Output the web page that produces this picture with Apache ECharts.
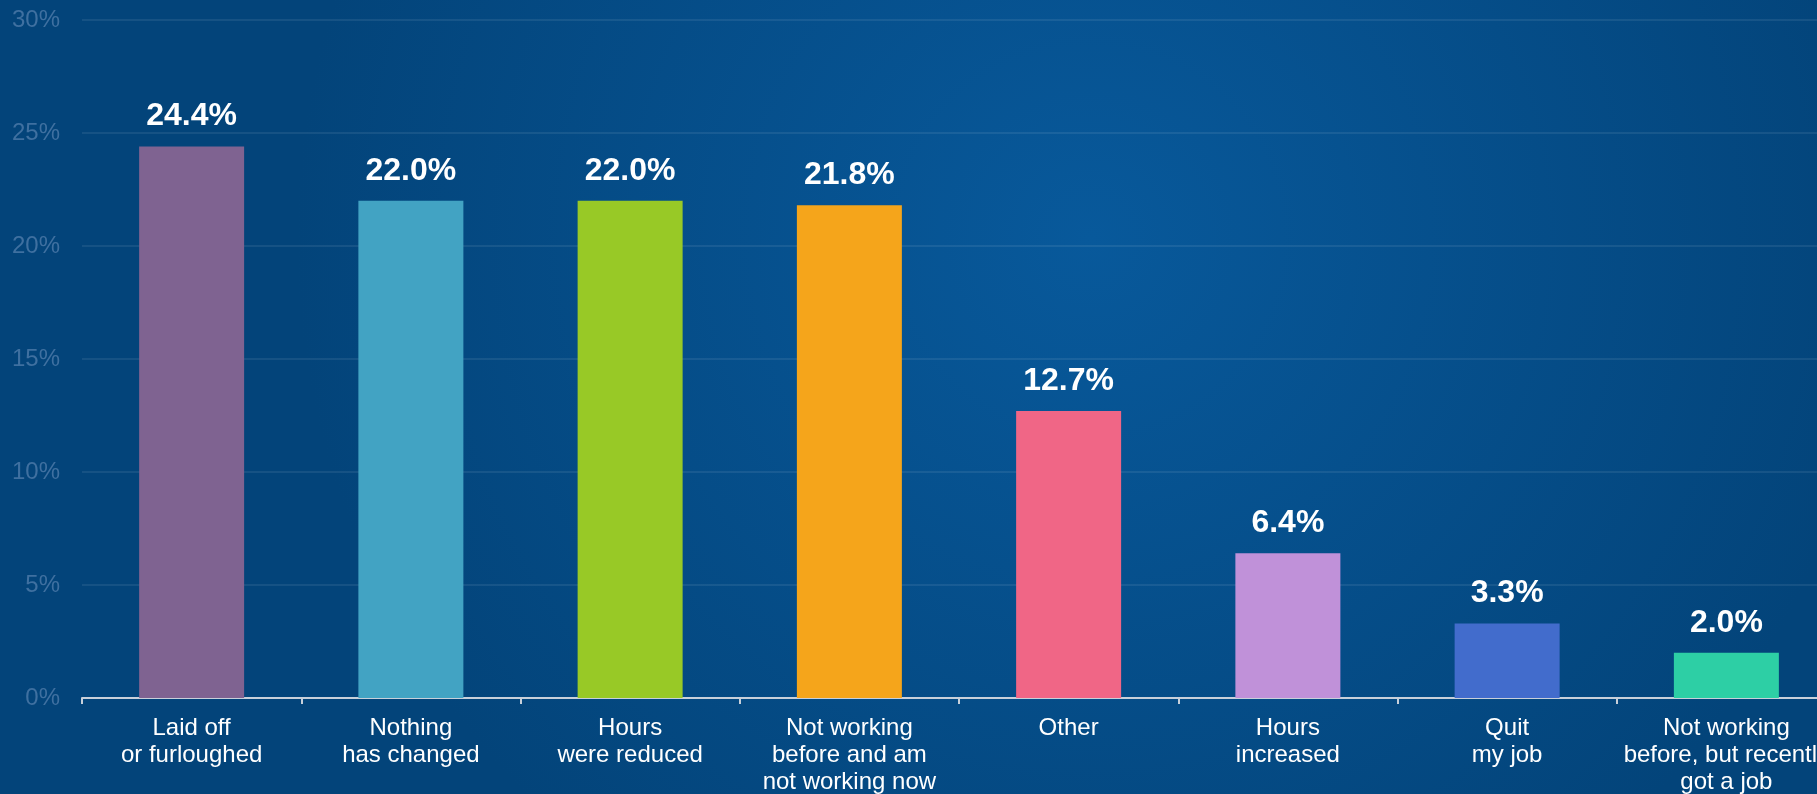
<!DOCTYPE html>
<html>
<head>
<meta charset="utf-8">
<script src="https://cdn.jsdelivr.net/npm/echarts@6/dist/echarts.min.js"></script>
<style>
html,body{margin:0;padding:0;width:1817px;height:794px;overflow:hidden;}
#chart{width:1817px;height:794px;}
</style>
</head>
<body>
<div id="chart"></div>
<script>
const categories = [
  "Laid off\nor furloughed",
  "Nothing\nhas changed",
  "Hours\nwere reduced",
  "Not working\nbefore and am\nnot working now",
  "Other",
  "Hours\nincreased",
  "Quit\nmy job",
  "Not working\nbefore, but recently\ngot a job"
];
const values = [24.4, 22.0, 22.0, 21.8, 12.7, 6.4, 3.3, 2.0];
const barColors = ["#7f6391", "#42a3c3", "#98c926", "#f5a51b", "#f06686", "#c091d9", "#426ccc", "#2dcfa5"];
const yTicks = { min: 0, max: 30, interval: 5 };

const FONT = "'Liberation Sans', Arial, sans-serif";
const chart = echarts.init(document.getElementById('chart'), null, { renderer: 'canvas' });
chart.setOption({
  backgroundColor: {
    type: 'radial', x: 0.6, y: 0.3, r: 1.0,
    colorStops: [
      { offset: 0, color: '#08599b' },
      { offset: 1, color: '#03447a' }
    ]
  },
  animation: false,
  grid: { left: 82, top: 20, width: 1754, height: 678, containLabel: false, outerBoundsMode: 'none' },
  xAxis: {
    type: 'category',
    data: categories,
    axisLine: { lineStyle: { color: '#c8d0da', width: 2 } },
    axisTick: { show: true, length: 6, lineStyle: { color: '#c8d0da', width: 2 } },
    axisLabel: { interval: 0, color: '#ffffff', fontSize: 24, lineHeight: 27, margin: 17, fontFamily: FONT },
    splitLine: { show: false }
  },
  yAxis: {
    type: 'value',
    min: yTicks.min, max: yTicks.max, interval: yTicks.interval,
    axisLine: { show: false },
    axisTick: { show: false },
    axisLabel: { formatter: '{value}%', color: '#3f70a0', fontSize: 24, margin: 22, fontFamily: FONT },
    splitLine: { lineStyle: { color: 'rgba(255,255,255,0.08)', width: 2 } }
  },
  series: [{
    type: 'bar',
    data: values.map((v, i) => ({ value: v, itemStyle: { color: barColors[i] } })),
    barWidth: 105,
    label: {
      show: true, position: 'top', distance: 14,
      formatter: p => p.value.toFixed(1) + '%',
      color: '#ffffff', fontSize: 32, fontWeight: 'bold', fontFamily: FONT
    }
  }]
});
</script>
</body>
</html>
